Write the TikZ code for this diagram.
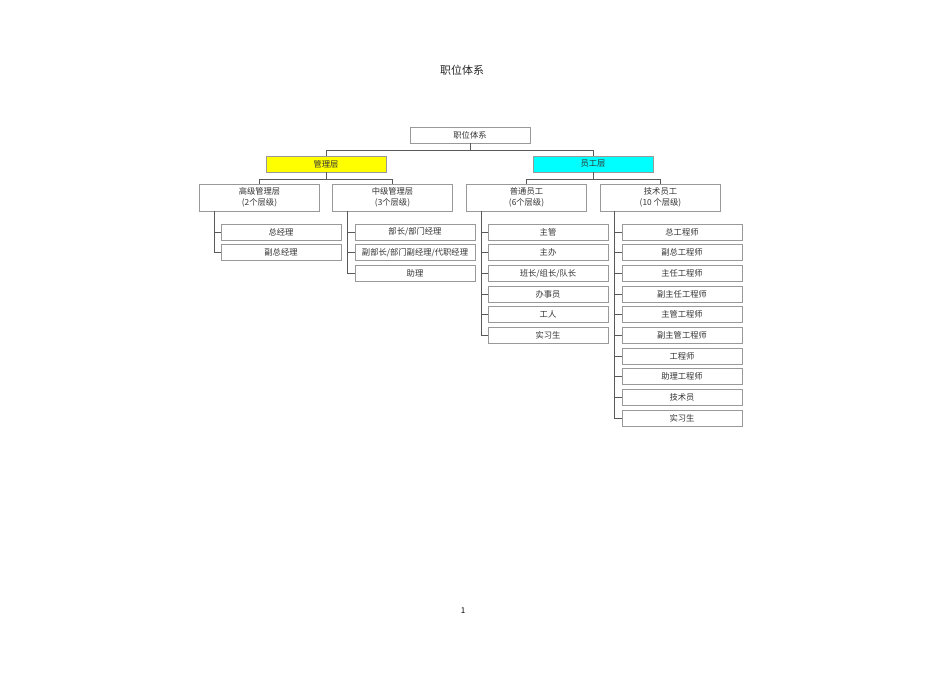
\documentclass[tikz,border=0pt]{standalone}
\usepackage{fontspec}
\setmainfont{Noto Sans CJK SC}
\usepackage{tikz}

\definecolor{mgyellow}{RGB}{255,255,0}
\definecolor{ygcyan}{RGB}{0,255,255}

\tikzset{
  box/.style={draw=gray!80, line width=0.7pt, minimum width=120pt, minimum height=16pt,
    inner sep=1pt, font=\fontsize{8.3}{10.5}\selectfont, text=black!80},
  bigbox/.style={box, minimum height=27pt, align=center},
  link/.style={draw=black!65, line width=0.8pt}
}

\begin{document}
\begin{tikzpicture}[x=1pt,y=-1pt]
    \useasboundingbox (0,0) rectangle (950,672);
    \node[font=\fontsize{11}{13}\selectfont, text=black!85] (title) at (462,70) {职位体系};

    \node[box] (root) at (470,135) {职位体系};
    \node[box, fill=mgyellow] (gl) at (326,164) {管理层};
    \node[box, fill=ygcyan] (yg) at (593,164) {员工层};

    \node[bigbox] (gj) at (259.5,197.5) {高级管理层\\(2个层级)};
    \node[bigbox] (zj) at (392.5,197.5) {中级管理层\\(3个层级)};
    \node[bigbox] (pu) at (526.5,197.5) {普通员工\\(6个层级)};
    \node[bigbox] (js) at (660.5,197.5) {技术员工\\(10 个层级)};

    \node[box] (gj1) at (281,232) {总经理};
    \node[box] (gj2) at (281,252.7) {副总经理};

    \node[box] (zj1) at (415,232) {部长/部门经理};
    \node[box] (zj2) at (415,252.7) {副部长/部门副经理/代职经理};
    \node[box] (zj3) at (415,273.3) {助理};

    \node[box] (pu1) at (548,232) {主管};
    \node[box] (pu2) at (548,252.7) {主办};
    \node[box] (pu3) at (548,273.3) {班长/组长/队长};
    \node[box] (pu4) at (548,294) {办事员};
    \node[box] (pu5) at (548,314.7) {工人};
    \node[box] (pu6) at (548,335.3) {实习生};

    \node[box] (js1) at (682,232) {总工程师};
    \node[box] (js2) at (682,252.7) {副总工程师};
    \node[box] (js3) at (682,273.3) {主任工程师};
    \node[box] (js4) at (682,294) {副主任工程师};
    \node[box] (js5) at (682,314.7) {主管工程师};
    \node[box] (js6) at (682,335.3) {副主管工程师};
    \node[box] (js7) at (682,356) {工程师};
    \node[box] (js8) at (682,376.7) {助理工程师};
    \node[box] (js9) at (682,397.3) {技术员};
    \node[box] (js10) at (682,418) {实习生};

    \node[font=\fontsize{8}{10}\selectfont] (page) at (463,611) {1};

    \draw[link] (root.south) -- ++(0,7) -| (gl.north);
    \draw[link] (root.south) -- ++(0,7) -| (yg.north);
    \draw[link] (gl.south) -- ++(0,7) -| (gj.north);
    \draw[link] (gl.south) -- ++(0,7) -| (zj.north);
    \draw[link] (yg.south) -- ++(0,7) -| (pu.north);
    \draw[link] (yg.south) -- ++(0,7) -| (js.north);

    \draw[link] ([xshift=-45pt]gj.south) |- (gj1.west);
    \draw[link] ([xshift=-45pt]gj.south) |- (gj2.west);

    \draw[link] ([xshift=-45pt]zj.south) |- (zj1.west);
    \draw[link] ([xshift=-45pt]zj.south) |- (zj2.west);
    \draw[link] ([xshift=-45pt]zj.south) |- (zj3.west);

    \draw[link] ([xshift=-45pt]pu.south) |- (pu1.west);
    \draw[link] ([xshift=-45pt]pu.south) |- (pu2.west);
    \draw[link] ([xshift=-45pt]pu.south) |- (pu3.west);
    \draw[link] ([xshift=-45pt]pu.south) |- (pu4.west);
    \draw[link] ([xshift=-45pt]pu.south) |- (pu5.west);
    \draw[link] ([xshift=-45pt]pu.south) |- (pu6.west);

    \draw[link] ([xshift=-46pt]js.south) |- (js1.west);
    \draw[link] ([xshift=-46pt]js.south) |- (js2.west);
    \draw[link] ([xshift=-46pt]js.south) |- (js3.west);
    \draw[link] ([xshift=-46pt]js.south) |- (js4.west);
    \draw[link] ([xshift=-46pt]js.south) |- (js5.west);
    \draw[link] ([xshift=-46pt]js.south) |- (js6.west);
    \draw[link] ([xshift=-46pt]js.south) |- (js7.west);
    \draw[link] ([xshift=-46pt]js.south) |- (js8.west);
    \draw[link] ([xshift=-46pt]js.south) |- (js9.west);
    \draw[link] ([xshift=-46pt]js.south) |- (js10.west);
\end{tikzpicture}
\end{document}
